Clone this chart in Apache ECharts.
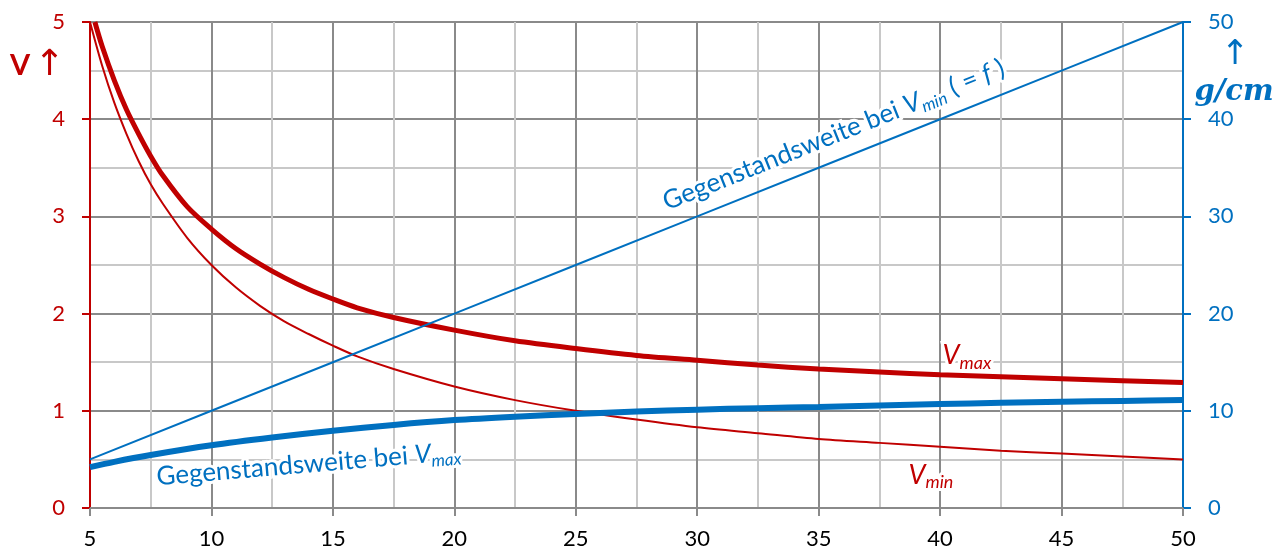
<!DOCTYPE html>
<html>
<head>
<meta charset="utf-8">
<script src="https://cdn.jsdelivr.net/npm/echarts@6/dist/echarts.min.js"></script>
<style>
  html, body { margin: 0; padding: 0; background: #ffffff; }
  #chart { width: 1284px; height: 552px; }
</style>
</head>
<body>
<div id="chart"></div>
<script>
// Brennweite f in cm (x axis) and the magnifier curves
const fVmin = [5, 5.5, 6, 6.5, 7, 7.5, 8, 9, 10, 11, 12, 13, 14, 15, 16, 17.5, 20, 22.5, 25, 27.5, 30, 32.5, 35, 37.5, 40, 42.5, 45, 47.5, 50];
const vMin  = [5.0, 4.55, 4.17, 3.85, 3.57, 3.33, 3.13, 2.78, 2.5, 2.27, 2.08, 1.92, 1.79, 1.67, 1.56, 1.43, 1.25, 1.11, 1.0, 0.91, 0.83, 0.77, 0.71, 0.67, 0.63, 0.59, 0.56, 0.53, 0.5];

const fVmax = [5.2, 5.5, 6, 6.5, 7, 7.5, 8, 9, 10, 11, 12, 13, 14, 15, 16, 17.5, 20, 22.5, 25, 27.5, 30, 32.5, 35, 37.5, 40, 42.5, 45, 47.5, 50];
const vMax  = [5.0, 4.75, 4.40, 4.10, 3.85, 3.62, 3.42, 3.10, 2.87, 2.67, 2.51, 2.37, 2.25, 2.15, 2.06, 1.96, 1.83, 1.72, 1.64, 1.57, 1.52, 1.47, 1.43, 1.40, 1.37, 1.35, 1.33, 1.31, 1.29];

// Gegenstandsweite g in cm (right axis)
const fGmin = [5, 10, 15, 20, 25, 30, 35, 40, 45, 50];
const gAtVmin = [5, 10, 15, 20, 25, 30, 35, 40, 45, 50];

const fGmax = [5, 6, 7.5, 10, 12.5, 15, 17.5, 20, 22.5, 25, 27.5, 30, 32.5, 35, 37.5, 40, 42.5, 45, 47.5, 50];
const gAtVmax = [4.2, 4.75, 5.45, 6.45, 7.25, 7.95, 8.55, 9.05, 9.4, 9.68, 9.92, 10.12, 10.27, 10.4, 10.55, 10.7, 10.82, 10.93, 11.02, 11.1];

// Axis ranges
const xRange = { min: 5, max: 50, step: 5 };
const vRange = { min: 0, max: 5, step: 1 };
const gRange = { min: 0, max: 50, step: 10 };

const RED = '#C00000';
const BLUE = '#0070C0';
const MAJOR = '#8a8a8a';
const MINOR = '#c8c8c8';
const FONT = 'Lato, "DejaVu Sans", sans-serif';

const pairs = (xs, ys) => xs.map((x, i) => [x, ys[i]]);

const chart = echarts.init(document.getElementById('chart'), null, { renderer: 'canvas' });

const curve = (name, axis, data, color, width, smooth) => ({
  name, type: 'line', yAxisIndex: axis, data,
  smooth, showSymbol: false, clip: true,
  lineStyle: { color, width }
});

chart.setOption({
  animation: false,
  backgroundColor: '#ffffff',
  grid: { left: 90, right: 101, top: 22, bottom: 44, containLabel: false },
  xAxis: {
    type: 'value',
    min: xRange.min, max: xRange.max, interval: xRange.step,
    axisLine: { show: true, onZero: false, lineStyle: { color: MAJOR, width: 2 } },
    axisTick: { show: true, length: 8, lineStyle: { color: MAJOR, width: 2 } },
    axisLabel: { color: '#000000', fontSize: 22, fontFamily: FONT, margin: 20 },
    splitLine: { show: true, lineStyle: { color: MAJOR, width: 2 } },
    minorTick: { show: false, splitNumber: 2 },
    minorSplitLine: { show: true, lineStyle: { color: MINOR, width: 2 } }
  },
  yAxis: [
    {
      type: 'value', position: 'left',
      min: vRange.min, max: vRange.max, interval: vRange.step,
      axisLine: { show: true, lineStyle: { color: RED, width: 2 } },
      axisTick: { show: true, length: 8, lineStyle: { color: RED, width: 2 } },
      axisLabel: { color: RED, fontSize: 22, fontFamily: FONT, margin: 25 },
      splitLine: { show: true, lineStyle: { color: MAJOR, width: 2 } },
      minorTick: { show: false, splitNumber: 2 },
      minorSplitLine: { show: true, lineStyle: { color: MINOR, width: 2 } }
    },
    {
      type: 'value', position: 'right',
      min: gRange.min, max: gRange.max, interval: gRange.step,
      axisLine: { show: true, lineStyle: { color: BLUE, width: 2 } },
      axisTick: { show: true, length: 8, lineStyle: { color: BLUE, width: 2 } },
      axisLabel: { color: BLUE, fontSize: 22, fontFamily: FONT, margin: 25 },
      splitLine: { show: false }
    }
  ],
  series: [
    curve('Vmin', 0, pairs(fVmin, vMin), RED, 2, 0.3),
    curve('Vmax', 0, pairs(fVmax, vMax), RED, 5, 0.3),
    curve('g bei Vmin', 1, pairs(fGmin, gAtVmin), BLUE, 2, false),
    curve('g bei Vmax', 1, pairs(fGmax, gAtVmax), BLUE, 6, 0.3)
  ]
});

// Annotations placed through the axes' own coordinate conversion
const toPx = (f, y, axis) => chart.convertToPixel({ xAxisIndex: 0, yAxisIndex: axis }, [f, y]);

const halo = { stroke: '#ffffff', lineWidth: 6 };
function richSet(color, size, subSize) {
  return {
    n: Object.assign({ fill: color, fontSize: size, fontFamily: FONT, lineHeight: size + 6 }, halo),
    v: Object.assign({ fill: color, fontSize: size, fontFamily: FONT, fontStyle: 'italic', lineHeight: size + 6 }, halo),
    s: Object.assign({ fill: color, fontSize: subSize, fontFamily: FONT, fontStyle: 'italic', lineHeight: subSize, verticalAlign: 'bottom' }, halo)
  };
}

// slope of the g = f line in screen space
const pA = toPx(fGmin[0], gAtVmin[0], 1);
const pB = toPx(fGmin[fGmin.length - 1], gAtVmin[gAtVmin.length - 1], 1);
const theta = Math.atan2(-(pB[1] - pA[1]), pB[0] - pA[0]);
const onLine = toPx(36.0, 36.0, 1);
const off = 25;
const minLabelPos = [onLine[0] - off * Math.sin(theta), onLine[1] - off * Math.cos(theta)];

const maxLabelAnchor = toPx(14.0, 7.7, 1);
const vmaxPos = toPx(40.1, 1.57, 0);
const vminPos = toPx(38.7, 0.34, 0);
const vTitle = toPx(5, 4.55, 0);
const gTitle = toPx(50, 45, 1);

chart.setOption({
  graphic: [
    {
      type: 'text', x: minLabelPos[0], y: minLabelPos[1], rotation: theta, z: 100,
      style: {
        text: '{n|Gegenstandsweite bei }{v|V}{s|min}{n| ( = }{v|f}{n| )}',
        align: 'center', verticalAlign: 'middle',
        rich: richSet(BLUE, 26, 17)
      }
    },
    {
      type: 'text', x: maxLabelAnchor[0], y: maxLabelAnchor[1] + 31, rotation: 4.8 * Math.PI / 180, z: 100,
      style: {
        text: '{n|Gegenstandsweite bei }{v|V}{s|max}',
        align: 'center', verticalAlign: 'middle',
        rich: richSet(BLUE, 26, 17)
      }
    },
    {
      type: 'text', x: vmaxPos[0], y: vmaxPos[1], z: 100,
      style: {
        text: '{v|V}{s|max}', align: 'left', verticalAlign: 'middle',
        rich: richSet(RED, 27, 18)
      }
    },
    {
      type: 'text', x: vminPos[0], y: vminPos[1], z: 100,
      style: {
        text: '{v|V}{s|min}', align: 'left', verticalAlign: 'middle',
        rich: richSet(RED, 27, 18)
      }
    },
    {
      type: 'text', x: 10, y: vTitle[1], z: 100,
      style: {
        text: '{b|V}{sp| }{a|↑}', align: 'left', verticalAlign: 'middle',
        rich: {
          b: { fill: RED, fontSize: 29, fontWeight: 'bold', fontFamily: FONT },
          sp: { fill: RED, fontSize: 16, fontFamily: FONT },
          a: { fill: RED, fontSize: 36, fontFamily: '"DejaVu Sans", sans-serif' }
        }
      }
    },
    {
      type: 'text', x: gTitle[0] + 52, y: gTitle[1] - 15, z: 100,
      style: {
        text: '↑', align: 'center', verticalAlign: 'middle',
        fill: BLUE, fontSize: 34, fontFamily: '"DejaVu Sans", sans-serif'
      }
    },
    {
      type: 'text', x: gTitle[0] + 51, y: gTitle[1] + 22, z: 100,
      style: {
        text: 'g/cm', align: 'center', verticalAlign: 'middle',
        fill: BLUE, fontSize: 29, fontWeight: 'bold', fontStyle: 'italic',
        fontFamily: '"DejaVu Serif", "Liberation Serif", serif'
      }
    }
  ]
});
</script>
</body>
</html>
